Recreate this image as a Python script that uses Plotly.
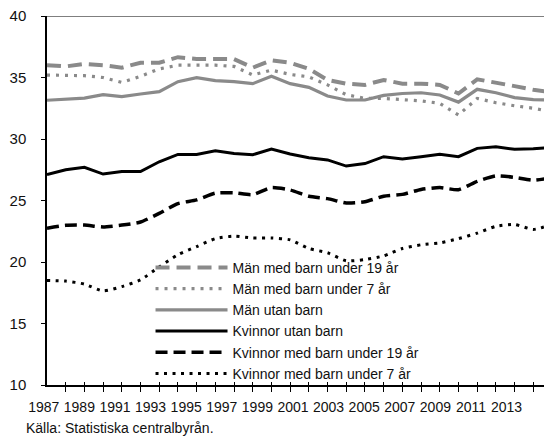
import plotly.graph_objects as go

years = list(range(1987, 2015))

man_barn_19 = [36.0, 35.9, 36.1, 36.0, 35.8, 36.2, 36.2, 36.65, 36.5, 36.5, 36.5, 35.8, 36.4, 36.2, 35.7, 34.8, 34.5, 34.4, 34.8, 34.5, 34.5, 34.4, 33.7, 34.85, 34.6, 34.3, 34.0, 33.8]
man_barn_7 = [35.2, 35.15, 35.15, 35.0, 34.6, 35.1, 35.7, 36.0, 36.0, 36.0, 35.9, 35.2, 35.6, 35.25, 35.05, 34.4, 33.6, 33.3, 33.3, 33.2, 33.1, 32.9, 31.95, 33.3, 32.95, 32.7, 32.5, 32.2]
man_utan = [33.15, 33.25, 33.33, 33.6, 33.45, 33.66, 33.85, 34.66, 34.98, 34.74, 34.66, 34.5, 35.1, 34.5, 34.2, 33.5, 33.17, 33.17, 33.55, 33.7, 33.76, 33.58, 33.0, 34.04, 33.76, 33.36, 33.2, 33.17]
kv_utan = [27.1, 27.5, 27.7, 27.15, 27.35, 27.35, 28.15, 28.75, 28.75, 29.05, 28.83, 28.72, 29.18, 28.78, 28.48, 28.3, 27.8, 28.0, 28.56, 28.37, 28.56, 28.75, 28.56, 29.24, 29.37, 29.16, 29.2, 29.32]
kv_barn_19 = [22.75, 22.98, 23.0, 22.85, 23.0, 23.25, 23.95, 24.75, 25.05, 25.6, 25.62, 25.48, 26.05, 25.85, 25.35, 25.15, 24.8, 24.9, 25.35, 25.5, 25.9, 26.05, 25.88, 26.55, 27.0, 26.88, 26.65, 26.85]
kv_barn_7 = [18.5, 18.45, 18.2, 17.65, 18.0, 18.55, 19.6, 20.6, 21.25, 21.9, 22.1, 21.95, 21.95, 21.8, 21.1, 20.75, 20.1, 20.2, 20.5, 21.1, 21.4, 21.55, 21.9, 22.35, 22.9, 23.05, 22.65, 23.05]

series_names = [
    "Män med barn under 19 år",
    "Män med barn under 7 år",
    "Män utan barn",
    "Kvinnor utan barn",
    "Kvinnor med barn under 19 år",
    "Kvinnor med barn under 7 år",
]
series_values = [man_barn_19, man_barn_7, man_utan, kv_utan, kv_barn_19, kv_barn_7]

y_ticks = [10, 15, 20, 25, 30, 35, 40]
x_label_years = list(range(1987, 2014, 2))
x_tick_years = list(range(1988, 2015))

GRAY = "#8a8a8a"
BLACK = "#000000"
styles = [
    dict(color=GRAY, width=4, dash="14px,7px", shape="linear"),
    dict(color=GRAY, width=3.2, dash="3px,6px", shape="linear"),
    dict(color=GRAY, width=3.2, dash="solid", shape="linear"),
    dict(color=BLACK, width=3, dash="solid", shape="linear"),
    dict(color=BLACK, width=3.5, dash="12px,6px", shape="spline"),
    dict(color=BLACK, width=3, dash="3px,5.5px", shape="spline"),
]

FONT = "Liberation Sans, Arial, sans-serif"
TXT = "#111"

fig = go.Figure()
for name, vals, st in zip(series_names, series_values, styles):
    fig.add_trace(go.Scatter(x=years, y=vals, name=name, mode="lines",
                             line=dict(color=st["color"], width=st["width"], dash=st["dash"],
                                       shape=st["shape"], smoothing=0.6),
                             cliponaxis=False))

# page body has an 8px margin: figure is 544x439 so it fits the 552x447 window
fig.update_layout(
    width=544, height=439,
    margin=dict(l=39, r=0, t=8, b=62),
    paper_bgcolor="white", plot_bgcolor="white",
    font=dict(family=FONT, size=14, color=TXT),
    showlegend=True,
    legend=dict(x=0.205, y=0.361, xanchor="left", yanchor="top",
                bgcolor="rgba(0,0,0,0)", itemwidth=72, tracegroupgap=0,
                font=dict(family=FONT, size=14, color=TXT),
                itemclick=False),
    xaxis=dict(range=[1987, 2014], showgrid=False, zeroline=False,
               showline=True, linecolor="black", linewidth=1.5,
               tickmode="array", tickvals=x_tick_years, ticks="outside",
               ticklen=5, tickcolor="black", tickwidth=1, showticklabels=False),
    xaxis2=dict(range=[1987, 2014], overlaying="x", anchor="y", side="bottom",
                showgrid=False, zeroline=False, showline=False,
                tickmode="array", tickvals=x_tick_years, ticks="inside",
                ticklen=3, tickcolor="black", tickwidth=1, showticklabels=False),
    xaxis3=dict(range=[1986.9, 2015.27], overlaying="x", anchor="y", side="bottom",
                showgrid=False, zeroline=False, showline=False,
                tickmode="array", tickvals=x_label_years,
                ticktext=[str(v) for v in x_label_years], ticks="",
                tickangle=0, ticklabelstandoff=12, ticklabelshift=-5,
                ticklabeloverflow="allow",
                tickfont=dict(family=FONT, size=14, color=TXT)),
    yaxis=dict(range=[10, 40], showgrid=False, zeroline=False,
               showline=True, linecolor="black", linewidth=1.5,
               tickmode="array", tickvals=y_ticks, ticks="outside",
               ticklen=4, tickcolor="black", tickwidth=1,
               ticklabelstandoff=12, ticklabeloverflow="allow",
               tickfont=dict(family=FONT, size=15, color=TXT)),
    shapes=[dict(type="line", xref="paper", yref="y", x0=0, x1=1, y0=40, y1=40,
                 line=dict(color="#555", width=1.5))],
    annotations=[dict(text="Källa: Statistiska centralbyrån.", xref="paper", yref="paper",
                      x=-0.045, y=-0.117, xanchor="left", yanchor="middle",
                      showarrow=False, font=dict(family=FONT, size=14, color=TXT))],
)
fig.add_trace(go.Scatter(x=[1987], y=[None], xaxis="x2", showlegend=False, hoverinfo="skip"))
fig.add_trace(go.Scatter(x=[1987], y=[None], xaxis="x3", showlegend=False, hoverinfo="skip"))

fig.write_html("out.html")
